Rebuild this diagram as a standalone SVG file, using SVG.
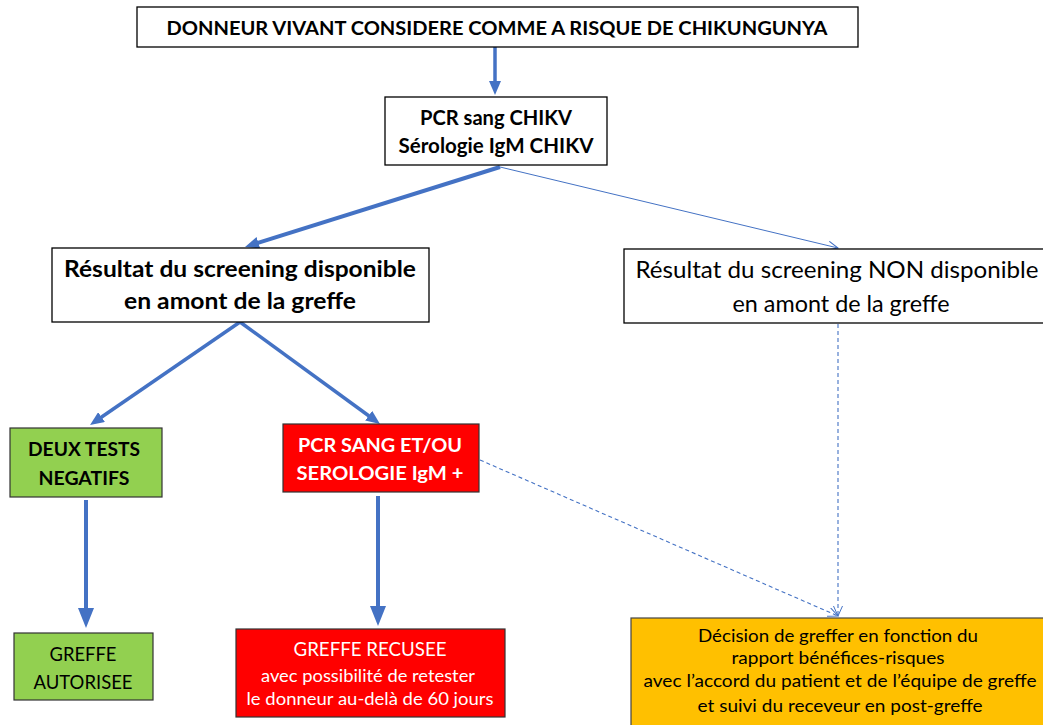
<svg xmlns="http://www.w3.org/2000/svg" width="1043" height="725" viewBox="0 0 1043 725">
<style>
text{font-family:Lato,"Open Sans","Liberation Sans",sans-serif;text-anchor:middle;fill:#000}
.b{font-weight:bold}
.w{fill:#fff}
.box{fill:#fff;stroke:#000;stroke-width:1.3}
.green{fill:#92D050;stroke:#333;stroke-width:1.2}
.red{fill:#FF0000;stroke:#333;stroke-width:1.2}
.orange{fill:#FFC000;stroke:#444;stroke-width:1.2}
.thick{stroke:#4472C4;fill:none}
.thin{stroke:#4472C4;stroke-width:1;fill:none}
.dash{stroke:#4472C4;stroke-width:1.1;fill:none;stroke-dasharray:4 3}
</style>
<defs>
<marker id="hv" markerUnits="userSpaceOnUse" markerWidth="20" markerHeight="16" refX="4" refY="8" orient="auto"><path d="M0,0 L20,8 L0,16 z" fill="#4472C4"/></marker>
<marker id="hd" markerUnits="userSpaceOnUse" markerWidth="14" markerHeight="12" refX="3" refY="6" orient="auto"><path d="M0,0 L14,6 L0,12 z" fill="#4472C4"/></marker>
<marker id="ho" markerUnits="userSpaceOnUse" markerWidth="12" markerHeight="10" refX="10" refY="5" orient="auto"><path d="M0,0.5 L10,5 L0,9.5" fill="none" stroke="#4472C4" stroke-width="1"/></marker>
</defs>
<g id="connectors">
<line class="thick" stroke-width="3.5" x1="495" y1="47" x2="495" y2="84" marker-end="url(#hd)"/>
<line class="thick" stroke-width="4" x1="500" y1="167" x2="255.5" y2="243.7" marker-end="url(#hd)"/>
<line class="thin" x1="500" y1="167" x2="838" y2="248" marker-end="url(#ho)"/>
<line class="thick" stroke-width="3.5" x1="240" y1="322" x2="99.1" y2="418.8" marker-end="url(#hd)"/>
<line class="thick" stroke-width="3.5" x1="240" y1="322" x2="371.1" y2="417.5" marker-end="url(#hd)"/>
<line class="thick" stroke-width="4" x1="86" y1="500" x2="86" y2="612" marker-end="url(#hv)"/>
<line class="thick" stroke-width="4" x1="378" y1="496" x2="378" y2="610" marker-end="url(#hv)"/>
<line class="dash" x1="838" y1="324" x2="838" y2="616" marker-end="url(#ho)"/>
<line class="dash" x1="480" y1="460" x2="838" y2="616" marker-end="url(#ho)"/>
</g>
<g id="donneur">
<rect class="box" x="137" y="7" width="721" height="40"/>
<text class="b" x="497" y="35" font-size="18.5" textLength="661" lengthAdjust="spacingAndGlyphs">DONNEUR VIVANT CONSIDERE COMME A RISQUE DE CHIKUNGUNYA</text>
</g>
<g id="pcr">
<rect class="box" x="385" y="97" width="222" height="68"/>
<text class="b" x="496" y="125" font-size="20" textLength="152" lengthAdjust="spacingAndGlyphs">PCR sang CHIKV</text>
<text class="b" x="496" y="153" font-size="20" textLength="195" lengthAdjust="spacingAndGlyphs">Sérologie IgM CHIKV</text>
</g>
<g id="dispo">
<rect class="box" x="52" y="248" width="377" height="74"/>
<text class="b" x="240" y="277" font-size="23.5" textLength="352" lengthAdjust="spacingAndGlyphs">Résultat du screening disponible</text>
<text class="b" x="240" y="309" font-size="23.5" textLength="232" lengthAdjust="spacingAndGlyphs">en amont de la greffe</text>
</g>
<g id="nondispo">
<rect class="box" x="624" y="249" width="425" height="74"/>
<text x="837" y="278" font-size="23.5" textLength="403" lengthAdjust="spacingAndGlyphs">Résultat du screening NON disponible</text>
<text x="841" y="312" font-size="23.5" textLength="217" lengthAdjust="spacingAndGlyphs">en amont de la greffe</text>
</g>
<g id="negatifs">
<rect class="green" x="10" y="428" width="152" height="69"/>
<text class="b" x="84" y="456" font-size="18.5" textLength="112" lengthAdjust="spacingAndGlyphs">DEUX TESTS</text>
<text class="b" x="84" y="485" font-size="18.5" textLength="91" lengthAdjust="spacingAndGlyphs">NEGATIFS</text>
</g>
<g id="positif">
<rect class="red" x="283" y="424" width="196" height="68"/>
<text class="b w" x="380" y="452" font-size="18.5" textLength="164" lengthAdjust="spacingAndGlyphs">PCR SANG ET/OU</text>
<text class="b w" x="380" y="480" font-size="18.5" textLength="167" lengthAdjust="spacingAndGlyphs">SEROLOGIE IgM +</text>
</g>
<g id="autorisee">
<rect class="green" x="14" y="633" width="139" height="67"/>
<text x="83" y="661" font-size="19.5" textLength="67" lengthAdjust="spacingAndGlyphs">GREFFE</text>
<text x="83" y="689" font-size="19.5" textLength="99" lengthAdjust="spacingAndGlyphs">AUTORISEE</text>
</g>
<g id="recusee">
<rect class="red" x="236" y="629" width="269" height="88"/>
<text class="w" x="370" y="656" font-size="19.5" textLength="153" lengthAdjust="spacingAndGlyphs">GREFFE  RECUSEE</text>
<text class="w" x="368" y="682" font-size="17.5" textLength="214" lengthAdjust="spacingAndGlyphs">avec possibilité de retester</text>
<text class="w" x="370" y="705" font-size="17.5" textLength="247" lengthAdjust="spacingAndGlyphs">le donneur au-delà de 60 jours</text>
</g>
<g id="decision">
<rect class="orange" x="631" y="618" width="420" height="115"/>
<text x="838" y="642" font-size="17.5" textLength="280" lengthAdjust="spacingAndGlyphs">Décision de greffer en fonction du</text>
<text x="838" y="664" font-size="17.5" textLength="213" lengthAdjust="spacingAndGlyphs">rapport bénéfices-risques</text>
<text x="840" y="687" font-size="17.5" textLength="393" lengthAdjust="spacingAndGlyphs">avec l’accord du patient et de l’équipe de greffe</text>
<text x="840" y="712" font-size="17.5" textLength="285" lengthAdjust="spacingAndGlyphs">et suivi du receveur en post-greffe</text>
</g>
</svg>
